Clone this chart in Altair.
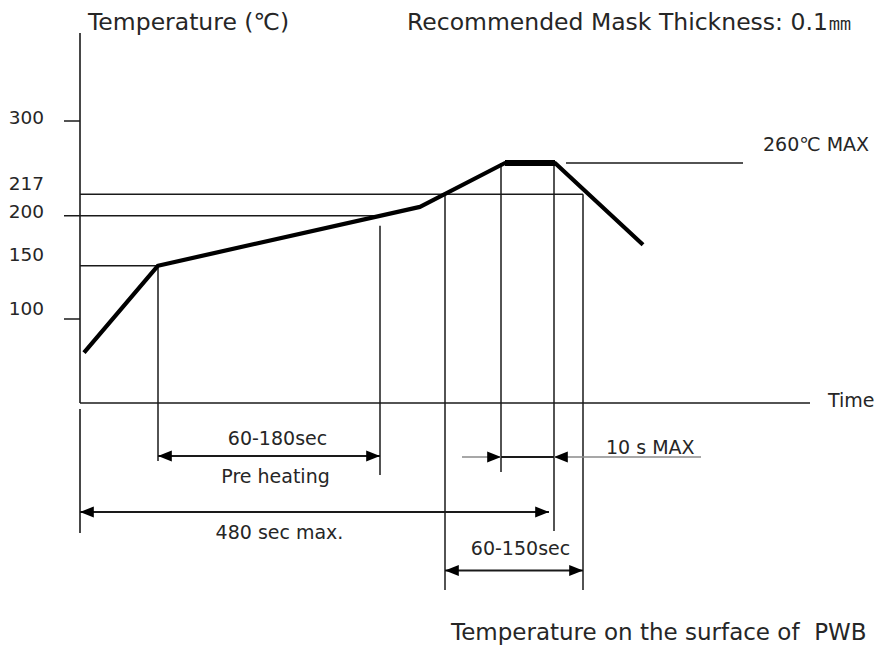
import altair as alt
import pandas as pd

# ---------------- data (time in s, schematic; temperature in degC) ----------------
profile_time = [4, 78, 340, 425, 475, 563]
profile_temp = [60, 150, 207, 260, 260, 171]
peak_time = [425, 475]
peak_temp = [260, 260]

axis_temps = [0, 100, 150, 200, 217, 260, 300, 400]     # annotated temperatures (schematic axis)
label_a = [200, 300]
label_b = [100, 150, 217]

# horizontal guide lines: temperature, from time, to time
guide_temp = [300, 100, 200, 150, 217, 260]
guide_from = [-16, -16, -16, 0, 0, 486]
guide_to = [0, 0, 297, 78, 503, 663]

# vertical guide lines: time, top temperature
vline_time = [78, 300, 365, 421, 474, 503]
vline_top = [150, 190, 217, 260, 260, 217]

# dimension arrows: from time, to time
arrow_from = [78, 0, 365]
arrow_to = [300, 469, 503]
ten_s_from, ten_s_to = 421, 474
ten_s_line = [382, 621]

# texts
title_left = "Temperature (℃)"
title_right = "Recommended Mask Thickness: 0.1㎜"
footer = "Temperature on the surface of\u00a0 PWB"

# ---------------- layout (pixels inside the plot area) ----------------
W, H = 872, 639
axis_range = [395, 311, 257.7, 207.7, 186.3, 155, 113, 18.3]
vline_bottom = [453, 467, 582, 464, 523, 582]
arrow_row = [448, 504, 562.5]
ten_s_row = 449
FONT = "DejaVu Sans"
INK = "#1a1a1a"
TXT = "#262626"

xs = alt.Scale(domain=[-72, 800], range=[0, W], nice=False, zero=False)
ys = alt.Scale(domain=axis_temps, range=axis_range, nice=False, zero=False)
X = lambda f="t": alt.X(f"{f}:Q", scale=xs, axis=None)
Y = lambda f="temp": alt.Y(f"{f}:Q", scale=ys, axis=None)

layers = []

# axes
layers.append(alt.Chart(pd.DataFrame({"t": [0], "temp": [0], "t2": [730]}))
              .mark_rule(color=INK, strokeWidth=1.6)
              .encode(x=X(), x2="t2:Q", y=Y()))
layers.append(alt.Chart(pd.DataFrame({"t": [0], "temp": [0], "temp2": [393]}))
              .mark_rule(color=INK, strokeWidth=1.6)
              .encode(x=X(), y=Y(), y2="temp2:Q"))
layers.append(alt.Chart(pd.DataFrame({"t": [0]}))
              .mark_rule(color=INK, strokeWidth=1.6)
              .encode(x=X(), y=alt.value(401), y2=alt.value(525)))

# horizontal guides
guides = pd.DataFrame({"temp": guide_temp, "t": guide_from, "t2": guide_to})
layers.append(alt.Chart(guides).mark_rule(color=INK, strokeWidth=1.5)
              .encode(x=X(), x2="t2:Q", y=Y()))

# vertical guides
for t, top, bot in zip(vline_time, vline_top, vline_bottom):
    layers.append(alt.Chart(pd.DataFrame({"t": [t], "temp": [top]}))
                  .mark_rule(color=INK, strokeWidth=1.5)
                  .encode(x=X(), y=Y(), y2=alt.value(bot)))

# profile curve
prof = pd.DataFrame({"t": profile_time, "temp": profile_temp, "o": range(len(profile_time))})
layers.append(alt.Chart(prof).mark_line(color="black", strokeWidth=4.2, strokeJoin="round")
              .encode(x=X(), y=Y(), order="o:Q"))
peak = pd.DataFrame({"t": peak_time, "temp": peak_temp})
layers.append(alt.Chart(peak).mark_line(color="black", strokeWidth=6)
              .encode(x=X(), y=Y()))

# arrows
RIGHT = "M0,0L-1,-0.4L-1,0.4Z"
LEFT = "M0,0L1,-0.4L1,0.4Z"


def head(t, row, shape):
    return (alt.Chart(pd.DataFrame({"t": [t]}))
            .mark_point(shape=shape, filled=True, size=760, color="black", opacity=1, strokeWidth=0)
            .encode(x=X(), y=alt.value(row)))


for a, b, row in zip(arrow_from, arrow_to, arrow_row):
    layers.append(alt.Chart(pd.DataFrame({"t": [a], "t2": [b]}))
                  .mark_rule(color=INK, strokeWidth=1.8)
                  .encode(x=X(), x2="t2:Q", y=alt.value(row)))
    layers.append(head(a, row, LEFT))
    layers.append(head(b, row, RIGHT))

layers.append(alt.Chart(pd.DataFrame({"t": [ten_s_line[0]], "t2": [ten_s_line[1]]}))
              .mark_rule(color="#8a8a8a", strokeWidth=1.6)
              .encode(x=X(), x2="t2:Q", y=alt.value(ten_s_row)))
layers.append(alt.Chart(pd.DataFrame({"t": [ten_s_from], "t2": [ten_s_to]}))
              .mark_rule(color=INK, strokeWidth=1.8)
              .encode(x=X(), x2="t2:Q", y=alt.value(ten_s_row)))
layers.append(head(ten_s_from, ten_s_row, RIGHT))
layers.append(head(ten_s_to, ten_s_row, LEFT))

# y labels
layers.append(alt.Chart(pd.DataFrame({"temp": label_a, "lab": [str(v) for v in label_a]}))
              .mark_text(align="right", baseline="middle", font=FONT, fontSize=18.5, color=TXT, dy=-3.5)
              .encode(x=alt.value(36), y=Y(), text="lab:N"))
layers.append(alt.Chart(pd.DataFrame({"temp": label_b, "lab": [str(v) for v in label_b]}))
              .mark_text(align="right", baseline="middle", font=FONT, fontSize=18.5, color=TXT, dy=-10.5)
              .encode(x=alt.value(36), y=Y(), text="lab:N"))


def txt(s, x, y, size=19, align="center", use_time=True):
    enc = {"x": X() if use_time else alt.value(x), "y": alt.value(y), "text": alt.value(s)}
    data = pd.DataFrame({"t": [x]})
    return (alt.Chart(data)
            .mark_text(align=align, baseline="middle", font=FONT, fontSize=size, color=TXT)
            .encode(**enc))


layers += [
    txt("60-180sec", 197.5, 431),
    txt("Pre heating", 195.5, 469),
    txt("480 sec max.", 199.5, 525),
    txt("10 s MAX", 526, 440, align="left"),
    txt("60-150sec", 440.5, 541),
    txt("260℃ MAX", 683, 137, align="left"),
    txt("Time", 748, 393, align="left"),
    txt(title_left, 80, 15, size=23.5, align="left", use_time=False),
    txt(title_right, 399, 15, size=23.5, align="left", use_time=False),
    txt(footer, 443, 625, size=23, align="left", use_time=False),
]

chart = (alt.layer(*layers)
         .properties(width=W, height=H, padding=0,
                     autosize=alt.AutoSizeParams(type="none"), background="white")
         .configure_view(stroke=None))

chart.save("out.html", embed_options={"renderer": "svg", "actions": False})
